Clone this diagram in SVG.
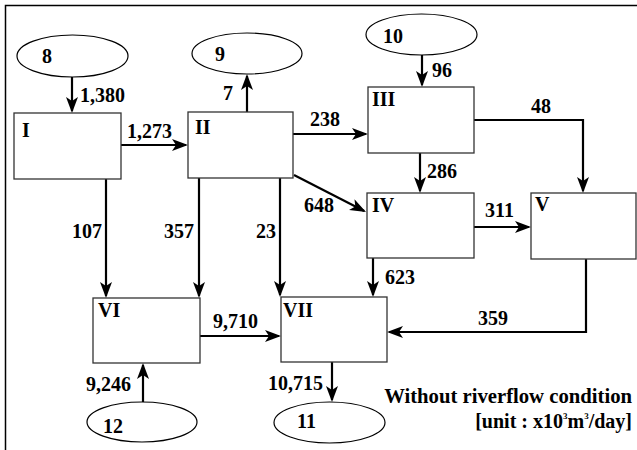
<svg xmlns="http://www.w3.org/2000/svg" width="637" height="450" viewBox="0 0 637 450">
<defs>
<marker id="ah" markerUnits="userSpaceOnUse" markerWidth="18" markerHeight="14" refX="14" refY="6" orient="auto">
<path d="M0,0 L16,6 L0,12 L4,6 z" fill="#000"/>
</marker>
<style>
text{font-family:"Liberation Serif","Times New Roman",serif;font-weight:bold;font-size:20px;fill:#000}
.box{fill:#fff;stroke:#333;stroke-width:1.3}
.ell{fill:#fff;stroke:#000;stroke-width:1.2}
.c{fill:none;stroke:#000;stroke-width:2.2;marker-end:url(#ah)}
.sup{font-size:9px}
.lg{font-size:20.7px}
</style>
</defs>
<rect width="637" height="450" fill="#fff"/>
<path d="M5.5,450 L5.5,5.5 L637,5.5" fill="none" stroke="#000" stroke-width="1.5"/>

<g id="connectors">
<path class="c" d="M72,77 L72,111"/>
<path class="c" d="M121,145 L186,145"/>
<path class="c" d="M247,112 L247,76"/>
<path class="c" d="M293,134 L366,134"/>
<path class="c" d="M294,175 L364.2,211.1"/>
<path class="c" d="M422,55 L422,85"/>
<path class="c" d="M420,153 L420,191"/>
<path class="c" d="M474,120 L583,120 L583,191"/>
<path class="c" d="M474,227 L529,227"/>
<path class="c" d="M373,258 L373,295"/>
<path class="c" d="M586,259 L586,332 L389,332"/>
<path class="c" d="M106,179 L106,296"/>
<path class="c" d="M199,178 L199,296"/>
<path class="c" d="M280,178 L280,295"/>
<path class="c" d="M200,336 L279,336"/>
<path class="c" d="M143,402 L143,365"/>
<path class="c" d="M332,362 L332,400"/>
<text x="80" y="102">1,380</text>
<text x="127" y="138">1,273</text>
<text x="223" y="100">7</text>
<text x="310" y="126">238</text>
<text x="304" y="212">648</text>
<text x="432" y="77">96</text>
<text x="427" y="178">286</text>
<text x="531" y="113">48</text>
<text x="485" y="217">311</text>
<text x="385" y="284">623</text>
<text x="478" y="325">359</text>
<text x="72" y="238">107</text>
<text x="164" y="238">357</text>
<text x="256" y="238">23</text>
<text x="213" y="328">9,710</text>
<text x="86" y="391">9,246</text>
<text x="268" y="390">10,715</text>
</g>

<g id="n8"><ellipse class="ell" cx="72.5" cy="56" rx="55.5" ry="21"/><text x="42" y="63">8</text></g>
<g id="n9"><ellipse class="ell" cx="247" cy="53.5" rx="55" ry="20.5"/><text x="215" y="61">9</text></g>
<g id="n10"><ellipse class="ell" cx="421.5" cy="34.5" rx="55.5" ry="20.5"/><text x="383" y="43">10</text></g>
<g id="n12"><ellipse class="ell" cx="142" cy="422" rx="55" ry="20"/><text x="103" y="433">12</text></g>
<g id="n11"><ellipse class="ell" cx="329.5" cy="422.5" rx="55.5" ry="20.5"/><text x="297" y="428">11</text></g>

<g id="nI"><rect class="box" x="14" y="113" width="107" height="66"/><text x="22" y="137">I</text></g>
<g id="nII"><rect class="box" x="188" y="112" width="105" height="66"/><text x="195" y="134">II</text></g>
<g id="nIII"><rect class="box" x="368" y="87" width="106" height="66"/><text x="372" y="106">III</text></g>
<g id="nIV"><rect class="box" x="367" y="193" width="107" height="65"/><text x="372" y="212">IV</text></g>
<g id="nV"><rect class="box" x="531" y="193" width="105" height="66"/><text x="535" y="211">V</text></g>
<g id="nVI"><rect class="box" x="93" y="298" width="107" height="65"/><text x="98" y="317">VI</text></g>
<g id="nVII"><rect class="box" x="281" y="297" width="106" height="65"/><text x="283" y="317">VII</text></g>

<g id="legend">
<text class="lg" x="632" y="403" text-anchor="end">Without riverflow condition</text>
<text x="632" y="428" text-anchor="end">[unit : x10<tspan class="sup" dy="-9">3</tspan><tspan dy="9">m</tspan><tspan class="sup" dy="-9">3</tspan><tspan dy="9">/day]</tspan></text>
</g>
</svg>
